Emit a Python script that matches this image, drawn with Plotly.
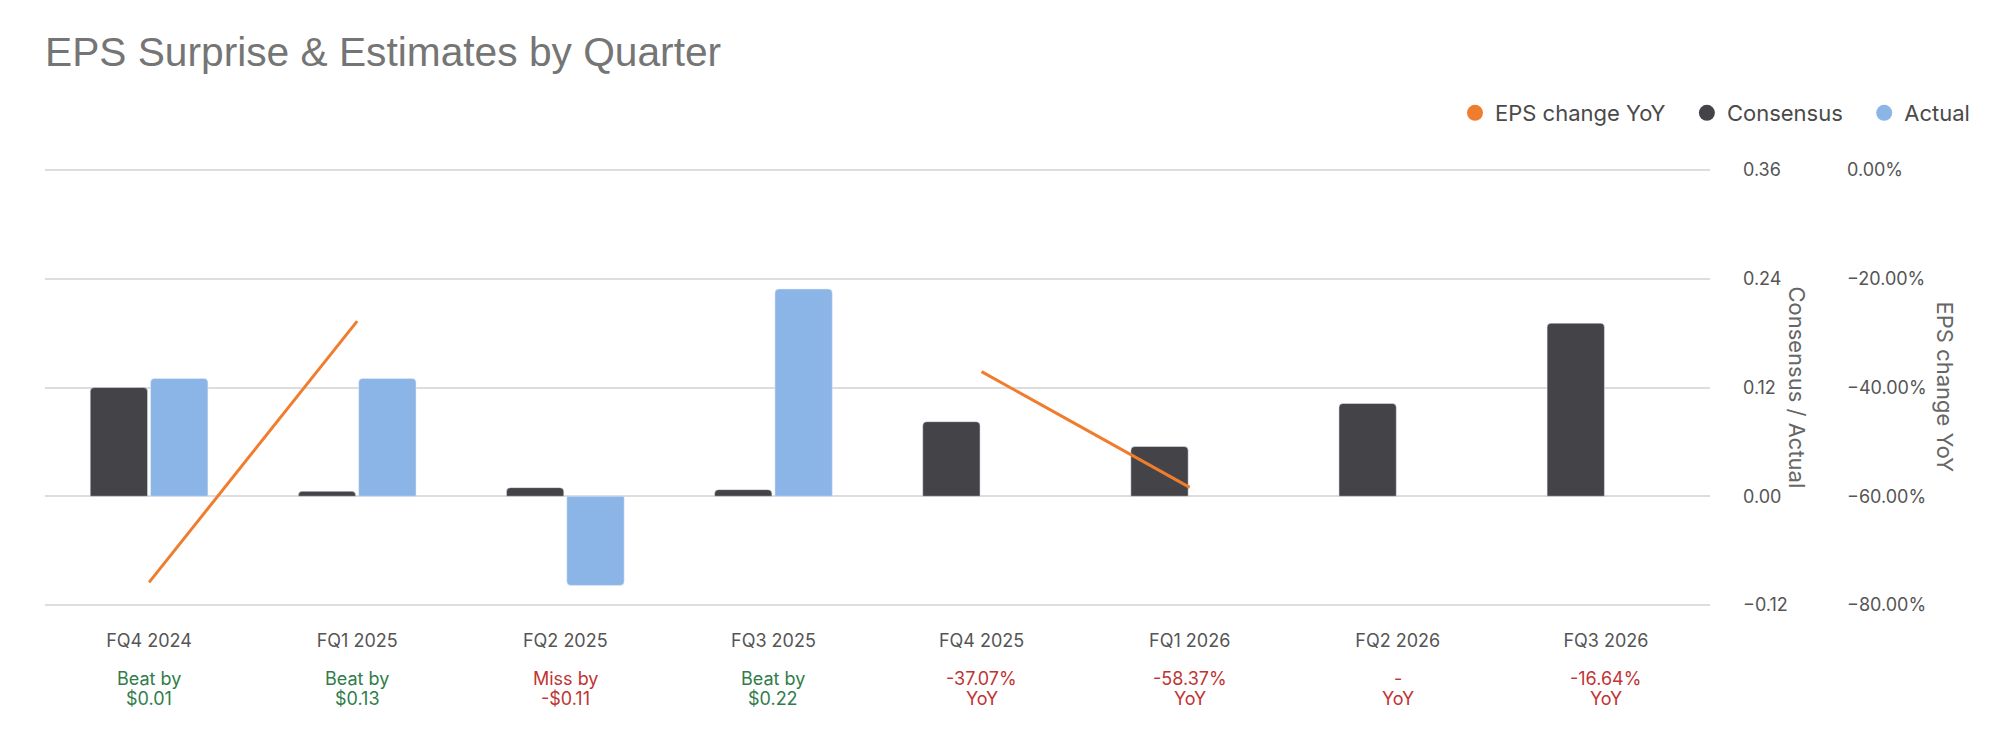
import plotly.graph_objects as go

quarters = ["FQ4 2024", "FQ1 2025", "FQ2 2025", "FQ3 2025",
            "FQ4 2025", "FQ1 2026", "FQ2 2026", "FQ3 2026"]
consensus = [0.120, 0.0055, 0.0095, 0.0073, 0.0823, 0.0549, 0.1024, 0.191]
actual = [0.130, 0.130, -0.0984, 0.2287, None, None, None, None]
eps_yoy = [-75.85, -27.8, None, None, -37.07, -58.37, None, -16.64]

note_top = ["Beat by", "Beat by", "Miss by", "Beat by", "-37.07%", "-58.37%", "-", "-16.64%"]
note_bottom = ["$0.01", "$0.13", "-$0.11", "$0.22", "YoY", "YoY", "YoY", "YoY"]
note_good = [True, True, False, True, False, False, False, False]

ORANGE = "#f07d2e"
DARK = "#444448"
BLUE = "#8cb5e7"
GREEN = "#2f7d4a"
RED = "#c03434"
FONT = "Inter"

# page body has an 8px margin, so the figure is drawn 8px smaller and everything shifted
W, H = 1986, 736

fig = go.Figure()

fig.add_trace(go.Bar(x=quarters, y=consensus, name="Consensus",
                     marker_color=DARK, showlegend=False))
fig.add_trace(go.Bar(x=quarters, y=actual, name="Actual",
                     marker_color=BLUE, showlegend=False))
fig.add_trace(go.Scatter(x=quarters, y=eps_yoy, name="EPS change YoY",
                         mode="lines", yaxis="y2",
                         line=dict(color=ORANGE, width=3),
                         connectgaps=False, showlegend=False))

# legend entries drawn as circles
pad = "\u00a0\u00a0\u2009"
for name, col in [("EPS change YoY" + pad, ORANGE), ("Consensus" + pad, DARK), ("Actual", BLUE)]:
    fig.add_trace(go.Scatter(x=[None], y=[None], mode="markers", name=name,
                             marker=dict(color=col, size=17, symbol="circle")))

annotations = []
for q, a, b, good in zip(quarters, note_top, note_bottom, note_good):
    c = GREEN if good else RED
    annotations.append(dict(x=q, xref="x", y=-0.1629, yref="paper", yanchor="middle",
                            xanchor="center", text=a, showarrow=False,
                            font=dict(family=FONT, size=18, color=c)))
    annotations.append(dict(x=q, xref="x", y=-0.2084, yref="paper", yanchor="middle",
                            xanchor="center", text=b, showarrow=False,
                            font=dict(family=FONT, size=18, color=c)))

annotations.append(dict(text="Consensus / Actual", textangle=90, showarrow=False,
                        x=1.0523, xref="paper", xanchor="center",
                        y=0.5, yref="paper", yanchor="middle",
                        font=dict(family=FONT, size=22, color="#666666")))
annotations.append(dict(text="EPS change YoY", textangle=90, showarrow=False,
                        x=1.1417, xref="paper", xanchor="center",
                        y=0.5, yref="paper", yanchor="middle",
                        font=dict(family=FONT, size=22, color="#666666")))

fig.update_layout(
    width=W, height=H,
    margin=dict(l=37, r=284, t=160, b=137, autoexpand=False),
    paper_bgcolor="white", plot_bgcolor="white",
    font=dict(family=FONT, color="#555555"),
    title=dict(text="EPS Surprise & Estimates by Quarter",
               x=37 / W, xref="container", xanchor="left",
               y=1 - 43.7 / H, yref="container", yanchor="middle",
               font=dict(family="Liberation Sans", size=40.7, color="#757575")),
    barmode="group", bargap=0.42, bargroupgap=0.05, barcornerradius=4,
    legend=dict(orientation="h", xref="container", x=1447 / W, xanchor="left",
                yref="container", y=1 - 105 / H, yanchor="middle",
                font=dict(family=FONT, size=22, color="#4a4a4a"),
                itemsizing="trace", traceorder="normal"),
    xaxis=dict(showgrid=False, showline=False, ticks="",
               ticklabelstandoff=21,
               tickfont=dict(family=FONT, size=18, color="#555555")),
    yaxis=dict(side="right", range=[-0.122207, 0.362207],
               tick0=0, dtick=0.12, tickformat=".2f",
               showgrid=True, gridcolor="#dddddd", gridwidth=1.6,
               zeroline=False, ticks="", ticklabelstandoff=32,
               tickfont=dict(family=FONT, size=18, color="#555555")),
    yaxis2=dict(overlaying="y", side="right", anchor="free", position=1,
                range=[-80.3678, 0.3678], tick0=0, dtick=20,
                tickformat=".2f", ticksuffix="%",
                showgrid=False, zeroline=False, ticks="", ticklabelstandoff=136,
                tickfont=dict(family=FONT, size=18, color="#555555")),
    annotations=annotations,
)

fig.write_html("out.html")
